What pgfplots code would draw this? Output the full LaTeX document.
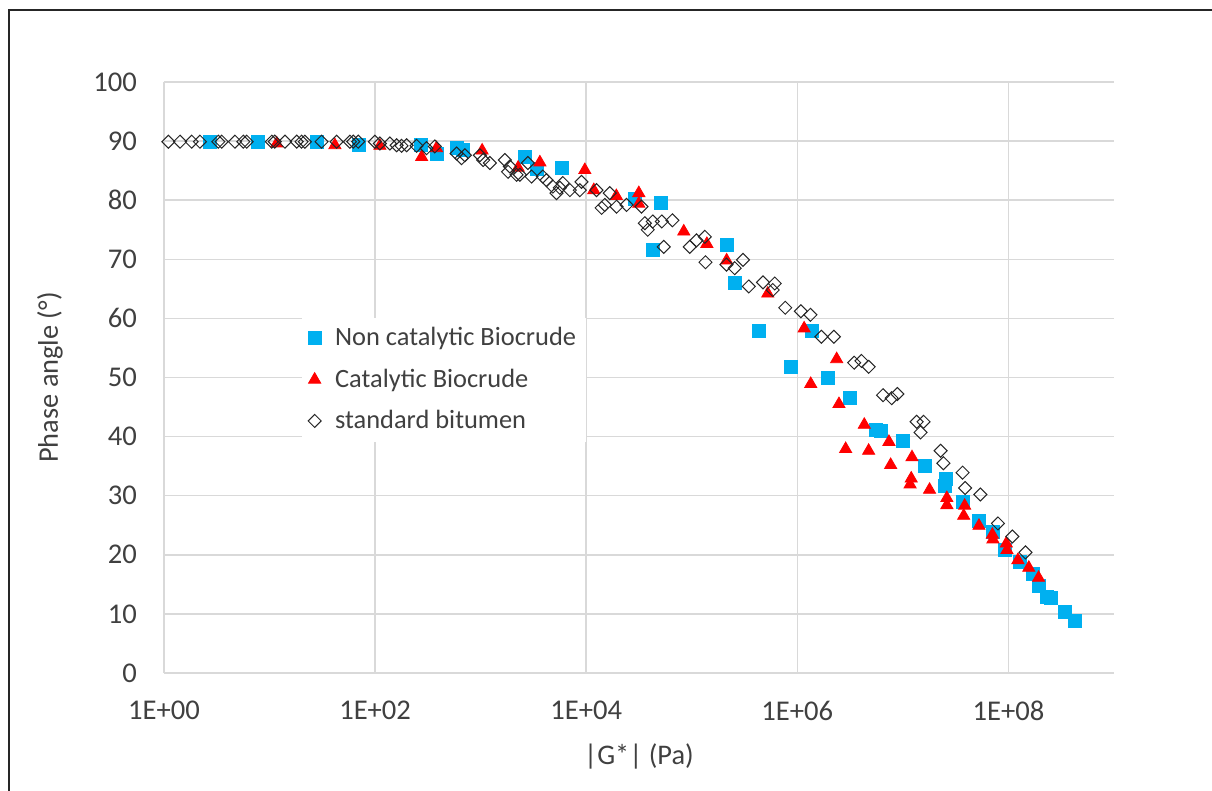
\documentclass[border=0pt]{standalone}
\usepackage{pgfplots}
\pgfplotsset{compat=1.18}
\usepackage{fontspec}
\setmainfont{Carlito}
\definecolor{ncb}{HTML}{00B0F0}
\definecolor{cb}{HTML}{FF0000}
\definecolor{txt}{HTML}{404040}
\definecolor{grd}{HTML}{D9D9D9}
\begin{document}
\begin{tikzpicture}
\useasboundingbox (-82pt,-59pt) rectangle (524pt,336.5pt);
\draw[line width=1pt, color=black!85] (-77.5pt,-80pt) -- (-77.5pt,331.5pt) -- (560pt,331.5pt);
\begin{axis}[
  xmode=log, log basis x=10,
  scale only axis, width=475pt, height=295.5pt,
  at={(0pt,0pt)}, anchor=south west,
  xmin=1, xmax=1e9, ymin=0, ymax=100,
  xtick={1,100,10000,1000000,100000000},
  xticklabels={1E+00,1E+02,1E+04,1E+06,1E+08},
  ytick={0,10,...,100},
  grid=major, major grid style={draw=grd, line width=0.75pt},
  axis line style={draw=none},
  tick style={draw=none},
  /pgf/number format/assume math mode=true,
  tick label style={font=\fontsize{14.3}{16}\selectfont, text=txt},
  yticklabel style={xshift=-10pt},
  xticklabel style={yshift=-10.5pt},
  xlabel={|G*| (Pa)},
  ylabel={Phase angle (°)},
  xlabel style={at={(axis description cs:0.5,-0.142)}, anchor=center, font=\fontsize{14.2}{16}\selectfont, text=txt},
  ylabel style={at={(axis description cs:-0.12,0.5)}, anchor=center, rotate=0, font=\fontsize{14.2}{16}\selectfont, text=txt},
  legend style={at={(axis description cs:0.145,0.602)}, anchor=north west, draw=none, fill=white,
    font=\fontsize{13.2}{15}\selectfont, text=txt, row sep=6pt, column sep=5pt, inner sep=3pt},
  legend cell align=left,
]
\addplot[only marks, mark=square*, mark size=3.25pt, mark options={draw=ncb, fill=ncb}] coordinates {
(2.73,89.9) (7.8,89.9) (27.9,89.9) (70.7,89.3) (270,89.3) (387,87.9) (592,88.8) (677,88.5)
(2620,87.4) (3400,85.3) (5870,85.4) (28800,80.3) (50600,79.5) (42700,71.6) (214000,72.4)
(259000,66.0) (434000,57.9) (861000,51.8) (1.36e6,57.9) (1.95e6,50.0) (3.13e6,46.6)
(5.61e6,41.1) (6.22e6,41.0) (1.0e7,39.3) (1.63e7,35.1) (2.49e7,31.6) (2.58e7,32.9)
(3.71e7,29.0) (5.26e7,25.7) (7.13e7,23.9) (9.35e7,20.8) (1.28e8,18.8) (1.71e8,16.7)
(1.93e8,14.8) (2.30e8,12.9) (2.55e8,12.7) (3.41e8,10.3) (4.24e8,8.8)
};
\addlegendentry{Non catalytic Biocrude}
\addplot[only marks, mark=triangle*, mark size=3.5pt, mark options={draw=cb, fill=cb}] coordinates {
(11.7,89.6) (41.6,89.3) (111,89.2) (276,87.3) (382,88.8) (1033,88.4) (2265,85.5) (3640,86.4)
(9700,85.1) (11800,81.7) (19300,80.7) (31500,81.2) (31500,79.4) (84000,74.7) (139000,72.6)
(214000,69.8) (525000,64.2) (1.16e6,58.3) (2.36e6,53.1) (1.34e6,48.9) (2.48e6,45.5)
(4.31e6,42.0) (2.87e6,37.9) (4.74e6,37.6) (7.38e6,39.1) (7.66e6,35.2) (1.22e7,36.5)
(1.2e7,32.9) (1.17e7,31.9) (1.79e7,31.0) (2.61e7,29.6) (2.61e7,28.4) (3.85e7,28.3)
(3.77e7,26.6) (5.26e7,24.9) (7.05e7,23.4) (7.13e7,22.6) (9.55e7,21.9) (9.68e7,20.8)
(1.23e8,19.1) (1.56e8,17.8) (1.93e8,16.1)
};
\addlegendentry{Catalytic Biocrude}
\addplot[only marks, mark=square, mark size=2.3pt, mark options={draw=black!85, line width=0.5pt, rotate=45}] coordinates {
(1.1,89.9) (1.42,89.9) (1.83,89.9) (2.19,89.9) (3.27,89.9) (3.52,89.9) (4.7,89.9) (5.64,89.9)
(6.07,89.9) (10.5,89.9) (11.2,89.9) (14.0,89.9) (18.1,89.9) (20.1,89.9) (21.6,89.9) (31.1,89.9)
(43.2,89.9) (57.7,89.9) (62.1,89.9) (69.2,89.9) (99.5,89.9) (111,89.6) (138,89.6) (160,89.3)
(178,89.2) (199,89.3) (247,89.2) (307,88.8) (368,89.1) (592,87.9) (659,87.1) (708,87.6)
(982,87.6) (1057,86.8) (1222,86.3) (1694,86.8) (1820,84.8) (1892,85.7) (2188,84.3) (2350,84.3)
(2800,86.3) (3034,84.0) (3882,84.0) (4207,83.4) (4830,82.3) (5236,81.2) (5623,82.1) (6000,82.9)
(7000,81.7) (8700,81.7) (9020,83.1) (12500,81.7) (14000,78.7) (15000,79.2) (16700,81.2)
(19400,78.9) (24100,79.2) (33400,78.9) (35900,76.1) (38300,75.0) (42700,76.4) (52000,76.4)
(65600,76.6) (54300,72.1) (95700,72.1) (111000,73.2) (133000,73.8) (135000,69.5) (213000,69.1)
(255000,68.5) (306000,69.9) (347000,65.4) (473000,66.1) (611000,65.9) (585000,64.8)
(768000,61.8) (1.08e6,61.2) (1.33e6,60.6) (1.69e6,56.9) (2.22e6,56.9) (3.46e6,52.5)
(4.05e6,52.8) (4.74e6,51.8) (6.49e6,47.0) (7.83e6,46.5) (8.87e6,47.2) (1.35e7,42.5)
(1.57e7,42.5) (1.47e7,40.7) (2.28e7,37.6) (2.42e7,35.5) (3.68e7,33.9) (3.89e7,31.3)
(5.42e7,30.2) (7.96e7,25.3) (1.09e8,23.1) (1.45e8,20.4)
};
\addlegendentry{standard bitumen}
\end{axis}
\end{tikzpicture}
\end{document}
